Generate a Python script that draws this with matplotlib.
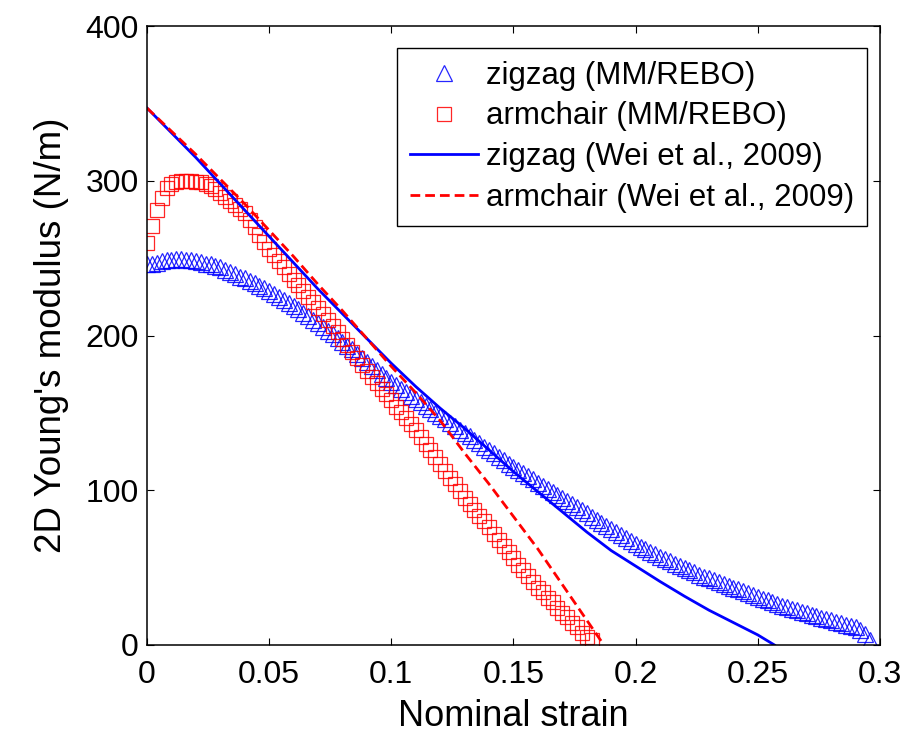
import numpy as np
import matplotlib
matplotlib.use("Agg")
import matplotlib.pyplot as plt

plt.rcParams['font.family'] = ['Liberation Sans', 'DejaVu Sans']

# ---- data ----
zigzag_mm_step = 0.002
zigzag_mm = [246, 246, 247, 248, 248.5, 249, 249.5, 249.5, 249, 248.5,
             248, 247.5, 246.5, 246, 245, 244, 242.5, 241, 239.5, 238,
             237, 235.5, 234, 232, 230.5, 229, 227, 225, 223, 221,
             219, 217, 214.5, 212.5, 210, 208, 205.5, 203, 201, 198.5,
             196, 193.5, 191, 188, 185.5, 183, 180.5, 178, 175, 172.5,
             170, 168, 165.5, 163.5, 161, 159, 157, 154.5, 152.5, 150,
             148, 146, 143.5, 141.5, 139, 137, 135, 132.5, 130.5, 128,
             126, 124, 121.5, 119.5, 117, 115, 113, 111, 109, 107,
             105, 103, 101, 99, 97, 95, 93, 91, 89, 87,
             85, 83, 81, 79, 77, 75, 73, 71, 69, 67,
             65, 63.5, 62, 60, 58.5, 57, 55.5, 54, 52.5, 51,
             50, 48.5, 47, 45.5, 44, 43, 42, 40.5, 39.5, 38,
             37, 36, 35, 33.5, 32.5, 31, 30, 29, 27.5, 26.5,
             25.5, 24.5, 23.5, 22.5, 21.5, 20.5, 19.5, 18.5, 17.5, 17,
             16, 15, 14, 13, 12.5, 11.5, 10, 7, 3]

armchair_mm_step = 0.002
armchair_mm = [260, 271, 281, 289, 295, 298, 299.5, 300, 300, 300,
               299.5, 299, 298, 296.5, 294.5, 292, 289.5, 287, 284.5, 282,
               279, 274.5, 270, 265, 260.5, 256, 252, 248, 244, 240,
               236, 232.5, 229, 225, 221.5, 218, 214, 210, 206, 202,
               198, 194, 189.5, 185.5, 181, 177, 173, 169.5, 165.5, 162,
               158, 154, 150.5, 146.5, 143, 139, 134.5, 130, 126, 121.5,
               117, 112.5, 108, 104, 99.5, 95, 91, 87.5, 83.5, 80,
               76, 72, 68, 64, 60, 56, 52, 48.5, 44.5, 41,
               37, 34, 30.5, 27.5, 24, 21, 18, 14.5, 11.5, 8,
               5, 3]

wei_zigzag_strain = [0, 0.01, 0.02, 0.03, 0.04, 0.05, 0.06, 0.07, 0.08, 0.09,
                     0.10, 0.11, 0.12, 0.13, 0.14, 0.15, 0.16, 0.17, 0.18, 0.19,
                     0.20, 0.21, 0.22, 0.225, 0.23, 0.24, 0.25, 0.2568]
wei_zigzag = [347, 331, 315, 298, 281, 264, 247, 230, 214, 198,
              182, 167, 153, 140, 126, 112, 99, 86, 73, 61,
              51, 41, 31.5, 27, 22.5, 14.5, 6.5, 0]

wei_armchair_strain = [0, 0.01, 0.02, 0.03, 0.04, 0.05, 0.06, 0.07, 0.08, 0.09,
                       0.10, 0.11, 0.12, 0.13, 0.14, 0.15, 0.16, 0.17, 0.18, 0.187]
wei_armchair = [347, 332, 317, 301, 285, 268, 251, 233, 216, 198,
                180, 163, 145, 124, 104, 83, 62, 39, 16, 0]

x_ticks = [0, 0.05, 0.1, 0.15, 0.2, 0.25, 0.3]
x_tick_labels = ['0', '0.05', '0.1', '0.15', '0.2', '0.25', '0.3']
y_ticks = [0, 100, 200, 300, 400]

zigzag_strain = np.arange(len(zigzag_mm)) * zigzag_mm_step
armchair_strain = np.arange(len(armchair_mm)) * armchair_mm_step

# ---- figure ----
fig = plt.figure(figsize=(9.2, 7.34), dpi=100)
ax = fig.add_axes([147/920, 1-645/734, (880-147)/920, (645-26)/734])

ax.plot(zigzag_strain, zigzag_mm, linestyle='none', marker='^', markersize=11,
        markerfacecolor='none', markeredgecolor=(0, 0, 1, 0.85), markeredgewidth=0.9,
        label='zigzag (MM/REBO)')
ax.plot(armchair_strain, armchair_mm, linestyle='none', marker='s', markersize=9.5,
        markerfacecolor='none', markeredgecolor=(1, 0, 0, 0.85), markeredgewidth=0.9,
        label='armchair (MM/REBO)')
ax.plot(wei_zigzag_strain, wei_zigzag, color='#0000ff', linewidth=2.0,
        label='zigzag (Wei et al., 2009)')
ax.plot(wei_armchair_strain, wei_armchair, color='#ff0000', linewidth=2.0,
        linestyle=(0, (3.5, 1.8)), label='armchair (Wei et al., 2009)')

ax.set_xlim(0, 0.3)
ax.set_ylim(0, 400)
ax.set_xticks(x_ticks)
ax.set_xticklabels(x_tick_labels)
ax.set_yticks(y_ticks)
ax.tick_params(direction='in', length=5, width=0.8, top=True, right=True,
               labelsize=23)
ax.tick_params(axis='x', pad=11)
ax.tick_params(axis='y', pad=6)
for s in ax.spines.values():
    s.set_linewidth(1.1)

ax.set_xlabel('Nominal strain', fontsize=26, labelpad=6)
ax.set_ylabel("2D Young's modulus (N/m)", fontsize=26.5, labelpad=12)

leg = ax.legend(loc='upper right', bbox_to_anchor=((867-147)/733, 1-(48-26)/619),
                borderaxespad=0, fontsize=22.5, frameon=True, fancybox=False,
                edgecolor='black', framealpha=1, handlelength=2.2,
                handletextpad=0.25, labelspacing=0.35, borderpad=0.4,
                numpoints=1)
leg.get_frame().set_linewidth(1.0)

fig.savefig('out.png', dpi=100)
